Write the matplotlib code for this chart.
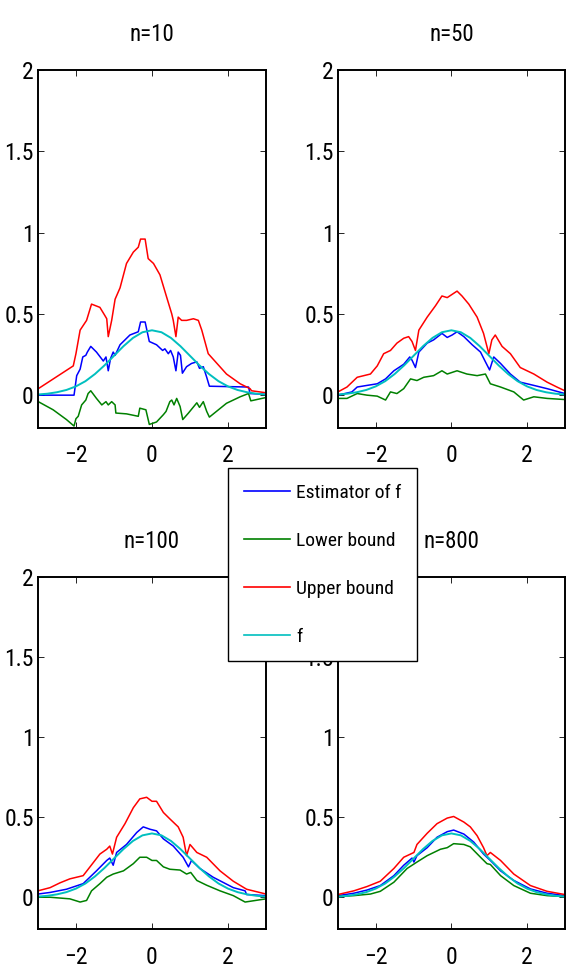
import matplotlib
matplotlib.use("Agg")
import matplotlib.pyplot as plt
from matplotlib import font_manager
from matplotlib.lines import Line2D

# narrow sans face, close to the stretched MATLAB Helvetica look
names = {f.name for f in font_manager.fontManager.ttflist}
FONT = "Roboto Condensed" if "Roboto Condensed" in names else "Liberation Sans"
plt.rcParams["font.family"] = [FONT, "DejaVu Sans"]

titles = ["n=10", "n=50", "n=100", "n=800"]
labels = ["Estimator of f", "Lower bound", "Upper bound", "f"]
colors = ["#0000ff", "#008000", "#ff0000", "#00bfbf"]

xticks = [-2, 0, 2]
xtick_labels = ["\u22122", "0", "2"]
yticks = [0, 0.5, 1, 1.5, 2]
ytick_labels = ["0", "0.5", "1", "1.5", "2"]

# true density f
f_x = [-3.0, -2.75, -2.5, -2.25, -2.0, -1.75, -1.5, -1.25, -1.0, -0.75, -0.5, -0.25, 0.0,
       0.25, 0.5, 0.75, 1.0, 1.25, 1.5, 1.75, 2.0, 2.25, 2.5, 2.75, 3.0]
f_y = [0.004, 0.009, 0.018, 0.032, 0.054, 0.086, 0.130, 0.183, 0.242, 0.301, 0.352, 0.387, 0.399,
       0.387, 0.352, 0.301, 0.242, 0.183, 0.130, 0.086, 0.054, 0.032, 0.018, 0.009, 0.004]

# n=10
est10_x = [-2.99, -2.05, -1.98, -1.89, -1.82, -1.74, -1.70, -1.61, -1.46, -1.28, -1.21, -1.15, -1.09,
           -1.02, -0.97, -0.84, -0.58, -0.36, -0.30, -0.18, -0.07, 0.12, 0.28, 0.34, 0.43, 0.49, 0.56,
           0.63, 0.69, 0.75, 0.80, 0.91, 1.04, 1.18, 1.25, 1.35, 1.44, 1.51, 2.54, 2.58, 2.99]
est10_y = [0.0, 0.0, 0.12, 0.16, 0.235, 0.245, 0.265, 0.30, 0.265, 0.21, 0.235, 0.15, 0.225,
           0.265, 0.245, 0.31, 0.37, 0.39, 0.45, 0.45, 0.33, 0.31, 0.275, 0.285, 0.255, 0.275, 0.235,
           0.15, 0.265, 0.245, 0.135, 0.175, 0.195, 0.205, 0.165, 0.175, 0.11, 0.055, 0.05, 0.01, 0.005]
low10_x = [-2.99, -2.60, -2.25, -2.05, -2.0, -1.94, -1.85, -1.74, -1.68, -1.61, -1.46, -1.32, -1.21,
           -1.15, -1.06, -0.97, -0.95, -0.67, -0.36, -0.32, -0.16, -0.07, 0.12, 0.30, 0.37, 0.47,
           0.52, 0.58, 0.65, 0.74, 0.81, 0.96, 1.18, 1.25, 1.35, 1.44, 1.51, 1.96, 2.32, 2.54, 2.60, 2.99]
low10_y = [-0.04, -0.09, -0.15, -0.19, -0.145, -0.13, -0.06, -0.03, 0.01, 0.027, -0.02, -0.06, -0.04,
           -0.06, -0.04, -0.06, -0.11, -0.115, -0.13, -0.08, -0.09, -0.18, -0.165, -0.12, -0.10, -0.04,
           -0.03, -0.06, -0.02, -0.07, -0.15, -0.11, -0.047, -0.075, -0.04, -0.10, -0.135, -0.05, -0.01,
           0.01, -0.035, -0.015]
up10_x = [-2.99, -2.07, -2.0, -1.89, -1.72, -1.59, -1.37, -1.24, -1.19, -1.15, -1.06, -0.97, -0.84,
          -0.67, -0.49, -0.36, -0.30, -0.18, -0.10, 0.04, 0.21, 0.39, 0.52, 0.56, 0.63, 0.69, 0.78,
          0.91, 1.09, 1.22, 1.31, 1.48, 1.96, 2.32, 2.58, 2.62, 2.99]
up10_y = [0.04, 0.18, 0.255, 0.40, 0.46, 0.56, 0.54, 0.49, 0.47, 0.36, 0.46, 0.59, 0.66,
          0.81, 0.88, 0.91, 0.96, 0.96, 0.84, 0.81, 0.74, 0.60, 0.50, 0.46, 0.36, 0.48, 0.46,
          0.46, 0.47, 0.46, 0.40, 0.255, 0.13, 0.07, 0.04, 0.027, 0.015]

# n=50
est50_x = [-3.0, -2.63, -2.49, -2.23, -1.96, -1.74, -1.52, -1.26, -1.10, -1.04, -0.95, -0.86, -0.64,
           -0.47, -0.25, -0.11, 0.02, 0.15, 0.33, 0.55, 0.77, 0.90, 1.01, 1.12, 1.30, 1.56, 1.82, 2.18,
           2.53, 3.0]
est50_y = [0.0, 0.02, 0.05, 0.06, 0.07, 0.10, 0.15, 0.19, 0.235, 0.215, 0.17, 0.265, 0.32,
           0.34, 0.38, 0.355, 0.37, 0.39, 0.36, 0.31, 0.265, 0.205, 0.155, 0.235, 0.195, 0.13, 0.08, 0.06,
           0.04, 0.01]
low50_x = [-3.0, -2.76, -2.49, -2.23, -1.96, -1.74, -1.61, -1.44, -1.26, -1.08, -0.91, -0.73, -0.47,
           -0.25, -0.11, 0.15, 0.41, 0.68, 0.90, 1.03, 1.30, 1.65, 1.91, 2.18, 2.53, 3.0]
low50_y = [-0.02, -0.02, 0.01, 0.0, -0.006, -0.03, 0.02, 0.01, 0.04, 0.10, 0.09, 0.11, 0.12,
           0.15, 0.13, 0.15, 0.13, 0.12, 0.13, 0.07, 0.05, 0.02, -0.03, -0.01, -0.02, -0.027]
up50_x = [-3.0, -2.76, -2.49, -2.14, -1.96, -1.79, -1.61, -1.44, -1.26, -1.13, -1.04, -0.95, -0.86,
          -0.64, -0.42, -0.25, -0.11, 0.02, 0.15, 0.28, 0.46, 0.68, 0.85, 0.99, 1.07, 1.16, 1.34, 1.56,
          1.82, 2.18, 2.53, 2.79, 3.0]
up50_y = [0.02, 0.05, 0.11, 0.13, 0.18, 0.255, 0.275, 0.32, 0.35, 0.36, 0.33, 0.275, 0.40,
          0.48, 0.55, 0.61, 0.60, 0.62, 0.64, 0.61, 0.56, 0.48, 0.38, 0.255, 0.34, 0.37, 0.30, 0.255,
          0.17, 0.13, 0.08, 0.05, 0.027]

# n=100
est100_x = [-3.0, -2.68, -2.25, -1.81, -1.46, -1.19, -1.11, -1.02, -0.93, -0.67, -0.40, -0.23, -0.05,
            0.12, 0.30, 0.56, 0.82, 0.96, 1.04, 1.26, 1.61, 2.14, 2.45, 2.49, 3.0]
est100_y = [0.02, 0.03, 0.05, 0.085, 0.165, 0.23, 0.245, 0.20, 0.28, 0.33, 0.405, 0.44, 0.425,
            0.415, 0.365, 0.32, 0.25, 0.19, 0.23, 0.18, 0.125, 0.06, 0.04, 0.017, 0.01]
low100_x = [-3.0, -2.68, -2.42, -2.16, -1.89, -1.72, -1.59, -1.37, -1.19, -1.02, -0.75, -0.49, -0.32,
            -0.14, 0.0, 0.12, 0.30, 0.47, 0.74, 0.91, 1.02, 1.18, 1.44, 1.79, 2.14, 2.45, 3.0]
low100_y = [0.0, 0.0, -0.005, -0.01, -0.03, -0.02, 0.04, 0.085, 0.125, 0.145, 0.165, 0.21, 0.25,
            0.25, 0.23, 0.23, 0.19, 0.175, 0.17, 0.145, 0.155, 0.105, 0.075, 0.04, 0.01, -0.03, -0.01]
up100_x = [-3.0, -2.68, -2.42, -2.16, -1.81, -1.63, -1.37, -1.19, -1.11, -1.04, -0.93, -0.71, -0.49,
           -0.32, -0.14, 0.0, 0.12, 0.30, 0.47, 0.69, 0.82, 0.91, 1.0, 1.18, 1.44, 1.79, 2.14, 2.49, 3.0]
up100_y = [0.04, 0.06, 0.09, 0.115, 0.135, 0.19, 0.27, 0.30, 0.32, 0.27, 0.375, 0.46, 0.56,
           0.615, 0.625, 0.60, 0.60, 0.53, 0.49, 0.44, 0.375, 0.26, 0.33, 0.28, 0.25, 0.165, 0.10, 0.05, 0.02]

# n=800
est800_x = [-3.0, -2.58, -2.23, -1.88, -1.52, -1.26, -1.04, -0.99, -0.91, -0.64, -0.38, -0.11, 0.06,
            0.33, 0.59, 0.85, 1.03, 1.30, 1.65, 2.09, 2.53, 3.0]
est800_y = [0.01, 0.025, 0.045, 0.073, 0.135, 0.20, 0.245, 0.22, 0.26, 0.31, 0.375, 0.41, 0.42,
            0.395, 0.345, 0.27, 0.23, 0.165, 0.105, 0.052, 0.025, 0.01]
low800_x = [-3.0, -2.58, -2.14, -1.88, -1.52, -1.17, -0.91, -0.64, -0.29, -0.11, 0.06, 0.33, 0.50,
            0.77, 0.94, 1.03, 1.30, 1.65, 2.09, 2.53, 3.0]
low800_y = [0.004, 0.01, 0.02, 0.037, 0.094, 0.18, 0.22, 0.26, 0.30, 0.31, 0.335, 0.33, 0.315,
            0.25, 0.21, 0.205, 0.135, 0.073, 0.025, 0.01, 0.004]
up800_x = [-3.0, -2.58, -2.23, -1.88, -1.52, -1.26, -1.08, -0.99, -0.91, -0.64, -0.38, -0.11, 0.06,
           0.33, 0.50, 0.68, 0.85, 0.94, 1.03, 1.30, 1.65, 2.09, 2.53, 3.0]
up800_y = [0.017, 0.04, 0.067, 0.10, 0.18, 0.25, 0.27, 0.28, 0.33, 0.40, 0.46, 0.495, 0.505,
           0.47, 0.44, 0.385, 0.31, 0.26, 0.28, 0.23, 0.145, 0.073, 0.037, 0.017]

panels = [
    ((est10_x, est10_y), (low10_x, low10_y), (up10_x, up10_y)),
    ((est50_x, est50_y), (low50_x, low50_y), (up50_x, up50_y)),
    ((est100_x, est100_y), (low100_x, low100_y), (up100_x, up100_y)),
    ((est800_x, est800_y), (low800_x, low800_y), (up800_x, up800_y)),
]

# axes boxes in figure fractions [left, bottom, width, height]
boxes = [
    [0.067, 0.560, 0.403, 0.368],
    [0.597, 0.560, 0.401, 0.368],
    [0.067, 0.044, 0.403, 0.362],
    [0.597, 0.044, 0.401, 0.362],
]

fig = plt.figure(figsize=(5.66, 9.72), dpi=100)

for box, title, curves in zip(boxes, titles, panels):
    ax = fig.add_axes(box)
    for (cx, cy), c in zip(curves, colors[:3]):
        ax.plot(cx, cy, color=c, lw=1.1)
    ax.plot(f_x, f_y, color=colors[3], lw=1.4)

    ax.set_xlim(-3, 3)
    ax.set_ylim(-0.2, 2)
    ax.set_xticks(xticks)
    ax.set_xticklabels(xtick_labels)
    ax.set_yticks(yticks)
    ax.set_yticklabels(ytick_labels)
    ax.tick_params(direction="in", top=True, right=True, length=4, width=0.6,
                   labelsize=17)
    ax.tick_params(axis="x", pad=12)
    ax.tick_params(axis="y", pad=3)
    for spine in ax.spines.values():
        spine.set_linewidth(1.4)
    ax.set_title(title, fontsize=16.5, pad=21)

handles = [Line2D([], [], color=c, lw=1.2) for c in colors]
leg = fig.legend(handles, labels, loc="center", bbox_to_anchor=(0.570, 0.419),
                 fontsize=14, frameon=True, fancybox=False, framealpha=1,
                 edgecolor="black", handlelength=2.4, handletextpad=0.3,
                 labelspacing=1.55, borderpad=0.8, borderaxespad=0)
leg.get_frame().set_linewidth(1.0)

fig.savefig("out.png", dpi=100)
